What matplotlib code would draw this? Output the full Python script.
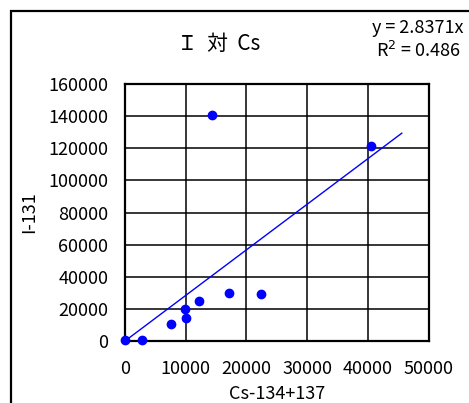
#!/usr/bin/env python3
# -*- coding: utf-8 -*-

import matplotlib
matplotlib.use("Agg")
import matplotlib.pyplot as plt
from matplotlib.patches import Rectangle
import numpy as np

plt.rcParams['font.family'] = ['Noto Sans CJK JP', 'DejaVu Sans']

# data
cs = [0, 2750, 7500, 9900, 10100, 12200, 17200, 22400, 14300, 40500]
iodine = [500, 500, 10500, 20000, 14600, 24600, 30000, 29100, 141000, 121200]
slope = 2.8371
r2 = 0.486
trend_x = [0, 45600]
xticks = [0, 10000, 20000, 30000, 40000, 50000]
yticks = [0, 20000, 40000, 60000, 80000, 100000, 120000, 140000, 160000]

W, H = 469, 403
fig = plt.figure(figsize=(W / 100, H / 100), dpi=100)

# outer chart frame (cut off on the right and bottom)
fig.patches.append(Rectangle((11 / W, -0.2), 1.2, 1.2 - 11 / H,
                             transform=fig.transFigure, fill=False,
                             edgecolor="black", linewidth=1.6, clip_on=False))

ax = fig.add_axes([125 / W, 1 - 341 / H, 303.5 / W, 257 / H])

tx = np.array(trend_x)
ax.plot(tx, slope * tx, color="#0000ff", linewidth=1.0, zorder=3)
ax.scatter(cs, iodine, s=36, color="#0000ff", zorder=4, clip_on=False)

ax.set_xlim(0, 50000)
ax.set_ylim(0, 160000)
ax.set_xticks(xticks)
ax.set_yticks(yticks)
ax.tick_params(axis="both", length=0, labelsize=13)
ax.tick_params(axis="x", pad=13.5)
ax.tick_params(axis="y", pad=12)
ax.grid(True, color="black", linewidth=1.1)
ax.set_axisbelow(True)
for s in ax.spines.values():
    s.set_linewidth(1.6)
    s.set_color("black")

ax.set_xlabel("Cs-134+137", fontsize=13, labelpad=5)
ax.set_ylabel("I-131", fontsize=13, labelpad=7.5)

fig.text(218.5 / W, 1 - 43.5 / H, "Ｉ  対  Cs", ha="center", va="center",
         fontsize=15)
fig.text(418 / W, 1 - 28 / H, "y = {}x".format(slope), ha="center",
         va="center", fontsize=13)
fig.text(418 / W, 1 - 51 / H, "R$^2$ = {}".format(r2), ha="center",
         va="center", fontsize=13)

plt.savefig("out.png", dpi=100)
plt.close()
